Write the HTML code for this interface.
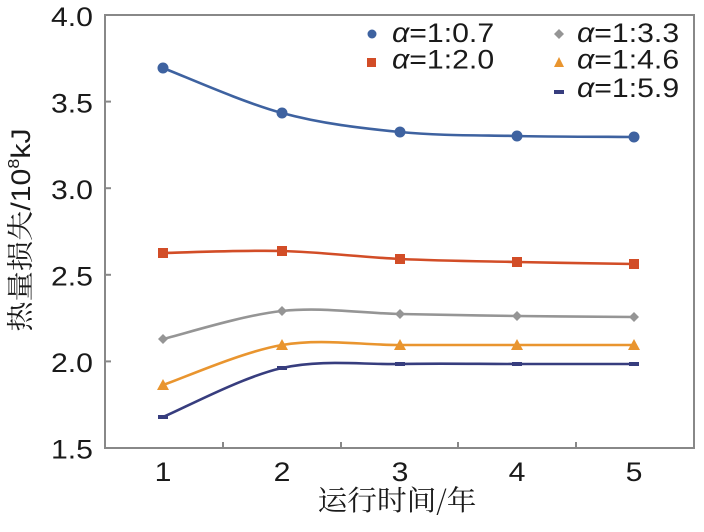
<!DOCTYPE html>
<html><head><meta charset="utf-8"><style>
html,body{margin:0;padding:0;background:#fff;}
svg{display:block;}
</style></head><body>
<svg width="704" height="532" viewBox="0 0 704 532" xmlns="http://www.w3.org/2000/svg">
<rect width="704" height="532" fill="#fff"/>
<!-- plot frame -->
<rect x="105" y="15" width="589" height="433" fill="none" stroke="#888" stroke-width="2"/>
<g stroke="#888" stroke-width="2">
<line x1="105" y1="101.6" x2="111" y2="101.6"/>
<line x1="105" y1="188.2" x2="111" y2="188.2"/>
<line x1="105" y1="274.8" x2="111" y2="274.8"/>
<line x1="105" y1="361.4" x2="111" y2="361.4"/>
<line x1="223" y1="448" x2="223" y2="442"/>
<line x1="341" y1="448" x2="341" y2="442"/>
<line x1="458" y1="448" x2="458" y2="442"/>
<line x1="576" y1="448" x2="576" y2="442"/>
</g>
<g font-family="Liberation Sans, sans-serif" font-size="27" fill="#1a1a1a" text-anchor="end">
<text transform="translate(93,26) scale(1.12,1)">4.0</text>
<text transform="translate(93,112.3) scale(1.12,1)">3.5</text>
<text transform="translate(93,198.9) scale(1.12,1)">3.0</text>
<text transform="translate(93,285.5) scale(1.12,1)">2.5</text>
<text transform="translate(93,372.1) scale(1.12,1)">2.0</text>
<text transform="translate(93,458.7) scale(1.12,1)">1.5</text>
</g>
<g font-family="Liberation Sans, sans-serif" font-size="27" fill="#1a1a1a" text-anchor="middle">
<text transform="translate(163,481) scale(1.12,1)">1</text>
<text transform="translate(282,481) scale(1.12,1)">2</text>
<text transform="translate(400,481) scale(1.12,1)">3</text>
<text transform="translate(517,481) scale(1.12,1)">4</text>
<text transform="translate(634,481) scale(1.12,1)">5</text>
</g>
<text transform="translate(397,510) scale(1.06,1)" text-anchor="middle" font-family="Noto Serif CJK SC, serif" font-size="28" fill="#1a1a1a">运行时间/年</text>
<text transform="translate(30,230) rotate(-90) scale(1.12,1)" text-anchor="middle" font-family="Liberation Sans, Noto Sans CJK SC, sans-serif" font-size="27" fill="#1a1a1a"><tspan font-family="Noto Serif CJK SC, serif">热量损失</tspan>/10<tspan font-size="16" dy="-11">8</tspan><tspan dy="11">kJ</tspan></text>

<!-- series -->
<g fill="none" stroke-width="2.6">
<path stroke="#3e62a0" d="M163,68 C182.8,75.5 242.5,102.3 282,113 C321.5,123.7 360.8,128.2 400,132 C439.2,135.8 478,135.2 517,136 C556,136.8 614.5,136.8 634,137"/>
<path stroke="#d24d27" d="M163,253 C182.8,252.7 242.5,250 282,251 C321.5,252 360.8,257.2 400,259 C439.2,260.8 478,261.2 517,262 C556,262.8 614.5,263.7 634,264"/>
<path stroke="#959595" d="M163,339 C182.8,334.3 242.5,315.2 282,311 C321.5,306.8 360.8,313.2 400,314 C439.2,314.8 478,315.5 517,316 C556,316.5 614.5,316.8 634,317"/>
<path stroke="#e9952f" d="M163,385 C182.8,378.3 242.5,351.7 282,345 C321.5,338.3 360.8,345 400,345 C439.2,345 478,345 517,345 L634,345"/>
<path stroke="#373d7e" d="M163,417 C182.8,408.8 242.5,376.8 282,368 C321.5,359.2 360.8,364.7 400,364 C439.2,363.3 478,364 517,364 L634,364"/>
</g>
<g fill="#3e62a0">
<circle cx="163" cy="68" r="5.5"/><circle cx="282" cy="113" r="5.5"/><circle cx="400" cy="132" r="5.5"/><circle cx="517" cy="136" r="5.5"/><circle cx="634" cy="137" r="5.5"/>
</g>
<g fill="#d24d27">
<rect x="158" y="248" width="10" height="10"/><rect x="277" y="246" width="10" height="10"/><rect x="395" y="254" width="10" height="10"/><rect x="512" y="257" width="10" height="10"/><rect x="629" y="259" width="10" height="10"/>
</g>
<g fill="#959595">
<polygon points="163,334 168,339 163,344 158,339"/><polygon points="282,306 287,311 282,316 277,311"/><polygon points="400,309 405,314 400,319 395,314"/><polygon points="517,311 522,316 517,321 512,316"/><polygon points="634,312 639,317 634,322 629,317"/>
</g>
<g fill="#e9952f">
<polygon points="163,379 169,390 157,390"/><polygon points="282,339 288,350 276,350"/><polygon points="400,339 406,350 394,350"/><polygon points="517,339 523,350 511,350"/><polygon points="634,339 640,350 628,350"/>
</g>
<g fill="#373d7e">
<rect x="158" y="415" width="10" height="4"/><rect x="277" y="366" width="10" height="4"/><rect x="395" y="362" width="10" height="4"/><rect x="512" y="362" width="10" height="4"/><rect x="629" y="362" width="10" height="4"/>
</g>
<!-- legend -->
<circle cx="372" cy="34" r="4.5" fill="#3e62a0"/>
<rect x="367" y="58" width="9" height="9" fill="#d24d27"/>
<polygon points="559,29 564,34 559,39 554,34" fill="#959595"/>
<polygon points="559,57 564,67 554,67" fill="#e9952f"/>
<rect x="554" y="90" width="10" height="4" fill="#373d7e"/>
<g font-family="Liberation Sans, sans-serif" font-size="27" fill="#1a1a1a">
<text transform="translate(392,42) scale(1.12,1)"><tspan font-style="italic">α</tspan>=1:0.7</text>
<text transform="translate(392,68.5) scale(1.12,1)"><tspan font-style="italic">α</tspan>=1:2.0</text>
<text transform="translate(577,42) scale(1.12,1)"><tspan font-style="italic">α</tspan>=1:3.3</text>
<text transform="translate(577,68.5) scale(1.12,1)"><tspan font-style="italic">α</tspan>=1:4.6</text>
<text transform="translate(577,97) scale(1.12,1)"><tspan font-style="italic">α</tspan>=1:5.9</text>
</g>
</svg>
</body></html>
